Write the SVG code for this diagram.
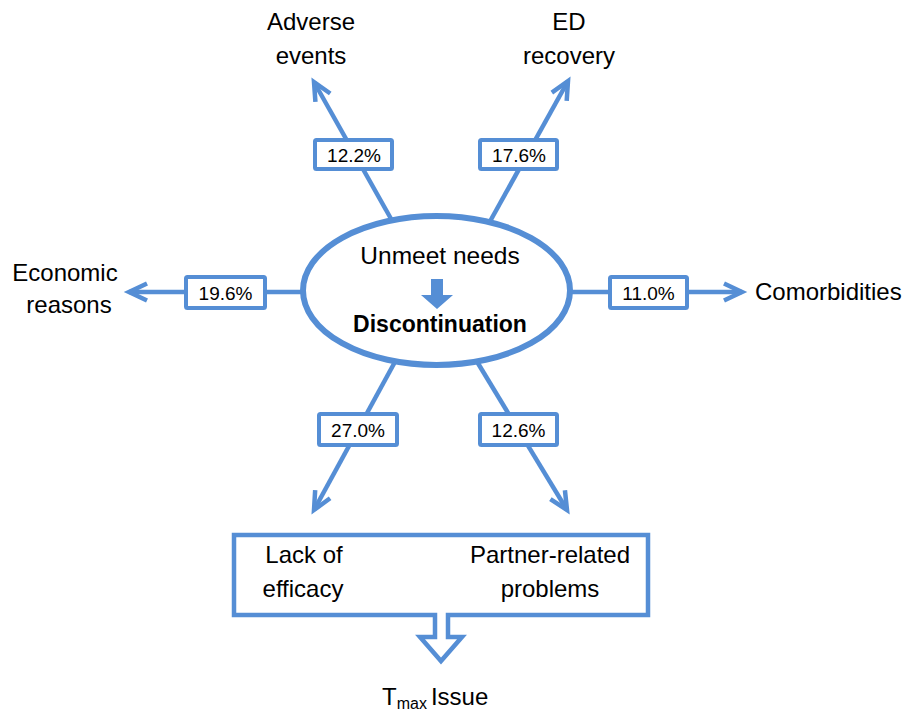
<svg xmlns="http://www.w3.org/2000/svg" width="912" height="712" viewBox="0 0 912 712">
<style>
.ln{stroke:#558ED5;stroke-width:4.5;fill:none;marker-end:url(#ah)}
.bx{fill:#fff;stroke:#558ED5;stroke-width:4}
.t{font-family:"Liberation Sans",Arial,sans-serif;font-size:24px;fill:#000;text-anchor:middle}
.p{font-family:"Liberation Sans",Arial,sans-serif;font-size:19px;fill:#000;text-anchor:middle}
</style>
<defs>
<marker id="ah" markerUnits="userSpaceOnUse" orient="auto" markerWidth="40" markerHeight="40" viewBox="-30 -20 40 40" refX="0" refY="0" overflow="visible">
<path d="M-18,-8.5 L0,0 L-18,8.5" fill="none" stroke="#558ED5" stroke-width="4.5" stroke-linejoin="miter"/>
</marker>
</defs>
<rect width="912" height="712" fill="#fff"/>
<g id="connectors">
<line class="ln" x1="394.5" y1="225" x2="314" y2="82"/>
<line class="ln" x1="488" y1="225" x2="568" y2="81"/>
<line class="ln" x1="305" y1="292" x2="129" y2="292"/>
<line class="ln" x1="570" y1="292" x2="742" y2="292"/>
<line class="ln" x1="396" y1="360" x2="314" y2="510"/>
<line class="ln" x1="476" y1="360" x2="567" y2="510"/>
</g>
<g id="center">
<ellipse cx="436.5" cy="290.5" rx="133.5" ry="74.5" fill="#fff" stroke="#558ED5" stroke-width="6"/>
<text class="t" x="440" y="264" style="font-size:24.5px">Unmeet needs</text>
<polygon points="431,279 443,279 443,295 453,295 437,309 421,295 431,295" fill="#558ED5"/>
<text class="t" x="440" y="332" font-weight="bold" style="font-size:23px">Discontinuation</text>
</g>
<g id="pct-122"><rect class="bx" x="315" y="140" width="77" height="29" rx="1.5"/><text class="p" x="354" y="162">12.2%</text></g>
<g id="pct-176"><rect class="bx" x="480" y="140" width="77" height="29" rx="1.5"/><text class="p" x="519" y="162">17.6%</text></g>
<g id="pct-196"><rect class="bx" x="186" y="277" width="79" height="31" rx="1.5"/><text class="p" x="225.5" y="300">19.6%</text></g>
<g id="pct-110"><rect class="bx" x="610" y="277" width="77" height="31" rx="1.5"/><text class="p" x="648.5" y="300">11.0%</text></g>
<g id="pct-270"><rect class="bx" x="319" y="414" width="78" height="31" rx="1.5"/><text class="p" x="358" y="437">27.0%</text></g>
<g id="pct-126"><rect class="bx" x="480" y="414" width="77" height="31" rx="1.5"/><text class="p" x="518.5" y="437">12.6%</text></g>
<g id="adverse"><text class="t" x="311" y="30">Adverse</text><text class="t" x="311" y="64">events</text></g>
<g id="ed"><text class="t" x="569" y="30">ED</text><text class="t" x="569" y="64">recovery</text></g>
<g id="economic"><text class="t" x="65" y="281">Economic</text><text class="t" x="69" y="313">reasons</text></g>
<g id="comorbidities"><text class="t" x="755" y="300" style="text-anchor:start">Comorbidities</text></g>
<g id="bottom-box">
<path d="M435,615 L234,615 L234,535 L648,535 L648,615 L448,615 L448,637 L462,637 L441,661 L420,637 L435,637 Z" fill="#fff" stroke="#558ED5" stroke-width="4.5" stroke-linejoin="miter"/>
<text class="t" x="304" y="563">Lack of</text>
<text class="t" x="303" y="597">efficacy</text>
<text class="t" x="550" y="563">Partner-related</text>
<text class="t" x="550" y="597">problems</text>
</g>
<g id="tmax">
<text class="t" x="382" y="705" style="text-anchor:start">T<tspan font-size="16" dy="4">max</tspan><tspan dy="-4" dx="4">Issue</tspan></text>
</g>
</svg>
